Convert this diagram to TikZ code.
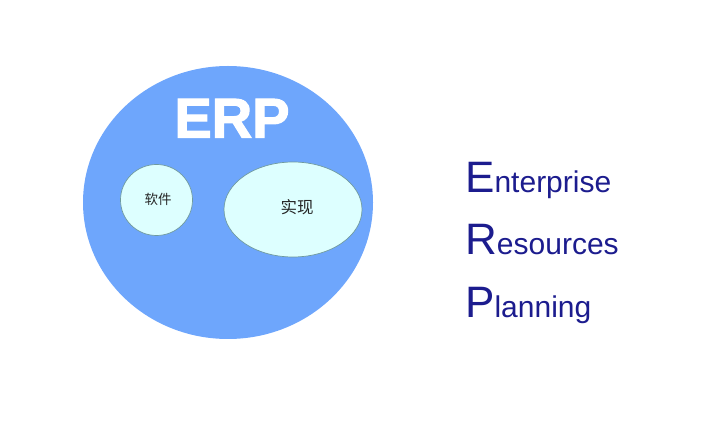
\documentclass[tikz,border=0pt]{standalone}
\usepackage{fontspec}
\setmainfont{Liberation Sans}
\newfontfamily\cjk{Noto Sans CJK SC}
\newfontfamily\erpfont[FakeBold=2]{Liberation Sans Bold}
\usetikzlibrary{shapes.geometric}
\definecolor{erpblue}{HTML}{6EA6FC}
\definecolor{paleblue}{HTML}{DDFFFF}
\definecolor{edgegrey}{HTML}{6F9A9E}
\definecolor{wordblue}{HTML}{1C1C8E}
\newcommand{\bigword}[2]{{\fontsize{44}{44}\selectfont #1}{\fontsize{30}{30}\selectfont #2}}
\tikzset{
  part/.style={ellipse, draw=edgegrey, line width=0.7pt, fill=paleblue, inner sep=0pt},
  partlabel/.style={inner sep=0pt, text=black!85},
  word/.style={anchor=base west, inner sep=0pt, text=wordblue},
}
\begin{document}
\begin{tikzpicture}[x=1pt,y=-1pt]
\useasboundingbox (0,0) rectangle (707,435);
\node[ellipse, fill=erpblue, inner sep=0pt, minimum width=290pt, minimum height=273pt] (erp) at (228,202.5){};
\node[anchor=base, inner sep=0pt, text=white, font=\fontsize{56}{56}\selectfont\erpfont] (erptitle) at (232,137.5){ERP};
\node[part, minimum width=72pt, minimum height=71pt] (soft) at (156.5,200){};
\node[partlabel, font=\fontsize{13.5}{14}\selectfont\cjk] (softtext) at (158,199){软件};
\node[part, minimum width=138pt, minimum height=95pt] (impl) at (293,209.5){};
\node[partlabel, font=\fontsize{16.5}{17}\selectfont\cjk] (impltext) at (297,207){实现};
\node[word] (enterprise) at (465,193){\bigword{E}{nterprise}};
\node[word] (resources) at (465,255){\bigword{R}{esources}};
\node[word] (planning) at (465,318){\bigword{P}{lanning}};
\end{tikzpicture}
\end{document}
